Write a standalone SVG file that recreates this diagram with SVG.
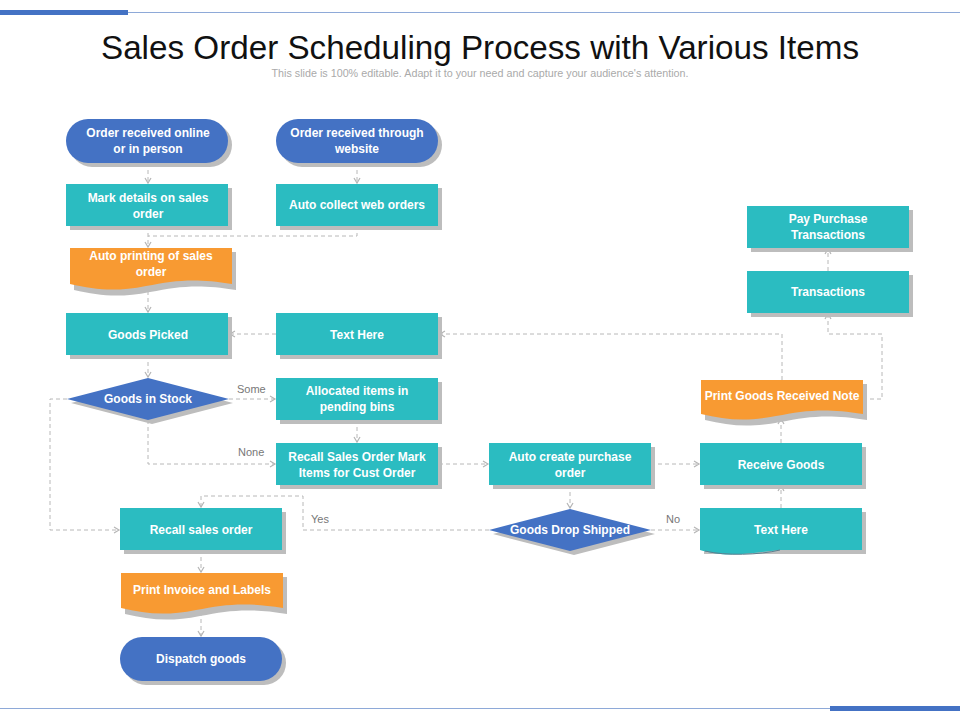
<svg xmlns="http://www.w3.org/2000/svg" width="960" height="720" viewBox="0 0 960 720">
<defs>
<marker id="ar" markerWidth="8" markerHeight="8" refX="6" refY="4" orient="auto" markerUnits="userSpaceOnUse"><path d="M1,1 L6,4 L1,7" fill="none" stroke="#b5b5b5" stroke-width="1.2"/></marker>
</defs>
<style>
.t{fill:#2bbcc1}.b{fill:#4472c4}.o{fill:#f89a32}.s{fill:#bdbdbd}
text{font-family:"Liberation Sans",Arial,sans-serif}
.l{fill:#fff;font-size:12px;font-weight:bold;text-anchor:middle}
.c{fill:none;stroke:#b8b8b8;stroke-width:1;stroke-dasharray:4,3}
.lb{fill:#777;font-size:11px}
</style>
<rect width="960" height="720" fill="#fff"/>
<rect x="0" y="10" width="128" height="5" fill="#4472c4"/>
<line x1="128" y1="12.5" x2="960" y2="12.5" stroke="#8ea9d8" stroke-width="1"/>
<line x1="0" y1="708.5" x2="830" y2="708.5" stroke="#8ea9d8" stroke-width="1"/>
<rect x="830" y="706" width="130" height="5" fill="#4472c4"/>
<text x="480" y="59" font-size="33" text-anchor="middle" fill="#111" textLength="758" lengthAdjust="spacingAndGlyphs">Sales Order Scheduling Process with Various Items</text>
<text x="480" y="77" font-size="10" text-anchor="middle" fill="#aaa" textLength="417" lengthAdjust="spacingAndGlyphs">This slide is 100% editable. Adapt it to your need and capture your audience's attention.</text>

<g id="connectors">
<path class="c" marker-end="url(#ar)" d="M148,163V183"/>
<path class="c" marker-end="url(#ar)" d="M357,163V183"/>
<path class="c" marker-end="url(#ar)" d="M148,226V247"/>
<path class="c" d="M357,226V236H148"/>
<path class="c" marker-end="url(#ar)" d="M148,291V312"/>
<path class="c" marker-end="url(#ar)" d="M276,334H230"/>
<path class="c" marker-end="url(#ar)" d="M782,380V334H440"/>
<path class="c" marker-end="url(#ar)" d="M148,355V377"/>
<path class="c" marker-end="url(#ar)" d="M229,399H275"/>
<path class="c" marker-end="url(#ar)" d="M67,399H50V530H119"/>
<path class="c" marker-end="url(#ar)" d="M148,420V464H275"/>
<path class="c" marker-end="url(#ar)" d="M357,420V442"/>
<path class="c" marker-end="url(#ar)" d="M439,464H488"/>
<path class="c" marker-end="url(#ar)" d="M651,464H699"/>
<path class="c" marker-end="url(#ar)" d="M570,485V508"/>
<path class="c" marker-end="url(#ar)" d="M489,530H303V496H201V507"/>
<path class="c" marker-end="url(#ar)" d="M651,530H699"/>
<path class="c" marker-end="url(#ar)" d="M781,508V486"/>
<path class="c" marker-end="url(#ar)" d="M781,443V419"/>
<path class="c" marker-end="url(#ar)" d="M863,399H882V334H828V314"/>
<path class="c" marker-end="url(#ar)" d="M828,271V249"/>
<path class="c" marker-end="url(#ar)" d="M201,550V572"/>
<path class="c" marker-end="url(#ar)" d="M201,612V636"/>
<text class="lb" x="237" y="393">Some</text>
<text class="lb" x="238" y="456">None</text>
<text class="lb" x="311" y="523">Yes</text>
<text class="lb" x="666" y="523">No</text>
</g>

<g id="n1"><rect class="s" x="70" y="123" width="162" height="44" rx="22"/><rect class="b" x="66" y="119" width="162" height="44" rx="22"/><text class="l" x="148" y="137">Order received online</text><text class="l" x="148" y="153">or in person</text></g>
<g id="n2"><rect class="s" x="280" y="123" width="162" height="44" rx="22"/><rect class="b" x="276" y="119" width="162" height="44" rx="22"/><text class="l" x="357" y="137">Order received through</text><text class="l" x="357" y="153">website</text></g>
<g id="n3"><rect class="s" x="70" y="188" width="162" height="42"/><rect class="t" x="66" y="184" width="162" height="42"/><text class="l" x="148" y="202">Mark details on sales</text><text class="l" x="148" y="218">order</text></g>
<g id="n4"><rect class="s" x="280" y="188" width="162" height="42"/><rect class="t" x="276" y="184" width="162" height="42"/><text class="l" x="357" y="209">Auto collect web orders</text></g>
<g id="n5"><path class="s" d="M74,252H236V290C200,284 180,286 150,292C120,298 100,296 74,290Z"/><path class="o" d="M70,248H232V284C196,278 176,280 146,286C116,292 96,290 70,284Z"/><text class="l" x="151" y="260">Auto printing of sales</text><text class="l" x="151" y="276">order</text></g>
<g id="n6"><rect class="s" x="70" y="317" width="162" height="42"/><rect class="t" x="66" y="313" width="162" height="42"/><text class="l" x="148" y="339">Goods Picked</text></g>
<g id="n7"><rect class="s" x="280" y="317" width="162" height="42"/><rect class="t" x="276" y="313" width="162" height="42"/><text class="l" x="357" y="339">Text Here</text></g>
<g id="n8"><path class="s" d="M152,382L233,403L152,424L71,403Z"/><path class="b" d="M148,378L229,399L148,420L67,399Z"/><text class="l" x="148" y="403">Goods in Stock</text></g>
<g id="n9"><rect class="s" x="280" y="382" width="162" height="42"/><rect class="t" x="276" y="378" width="162" height="42"/><text class="l" x="357" y="395">Allocated items in</text><text class="l" x="357" y="411">pending bins</text></g>
<g id="n10"><rect class="s" x="280" y="447" width="162" height="42"/><rect class="t" x="276" y="443" width="162" height="42"/><text class="l" x="357" y="461">Recall Sales Order Mark</text><text class="l" x="357" y="477">Items for Cust Order</text></g>
<g id="n11"><rect class="s" x="493" y="447" width="162" height="42"/><rect class="t" x="489" y="443" width="162" height="42"/><text class="l" x="570" y="461">Auto create purchase</text><text class="l" x="570" y="477">order</text></g>
<g id="n12"><rect class="s" x="704" y="447" width="162" height="42"/><rect class="t" x="700" y="443" width="162" height="42"/><text class="l" x="781" y="469">Receive Goods</text></g>
<g id="n13"><path class="s" d="M574,513L655,534L574,555L493,534Z"/><path class="b" d="M570,509L651,530L570,551L489,530Z"/><text class="l" x="570" y="534">Goods Drop Shipped</text></g>
<g id="n14"><rect class="s" x="704" y="512" width="162" height="42"/><path class="t" d="M700,508H862V550H780C760,552 740,556 720,554C710,553 704,551 700,550Z"/><path d="M705,551C725,556 760,555 780,550" fill="none" stroke="#5d7f8f" stroke-width="1"/><text class="l" x="781" y="534">Text Here</text></g>
<g id="n15"><rect class="s" x="124" y="512" width="162" height="42"/><rect class="t" x="120" y="508" width="162" height="42"/><text class="l" x="201" y="534">Recall sales order</text></g>
<g id="n16"><path class="s" d="M125,577H287V614C250,608 230,610 200,616C170,622 150,620 125,614Z"/><path class="o" d="M121,573H283V608C246,602 226,604 196,610C166,616 146,614 121,608Z"/><text class="l" x="202" y="594">Print Invoice and Labels</text></g>
<g id="n17"><rect class="s" x="124" y="641" width="162" height="44" rx="22"/><rect class="b" x="120" y="637" width="162" height="44" rx="22"/><text class="l" x="201" y="663">Dispatch goods</text></g>
<g id="n18"><rect class="s" x="751" y="210" width="162" height="42"/><rect class="t" x="747" y="206" width="162" height="42"/><text class="l" x="828" y="223">Pay Purchase</text><text class="l" x="828" y="239">Transactions</text></g>
<g id="n19"><rect class="s" x="751" y="275" width="162" height="42"/><rect class="t" x="747" y="271" width="162" height="42"/><text class="l" x="828" y="296">Transactions</text></g>
<g id="n20"><path class="s" d="M705,384H867V420C830,414 810,416 780,422C750,428 730,426 705,420Z"/><path class="o" d="M701,380H863V414C826,408 806,410 776,416C746,422 726,420 701,414Z"/><text class="l" x="782" y="400">Print Goods Received Note</text></g>
</svg>
